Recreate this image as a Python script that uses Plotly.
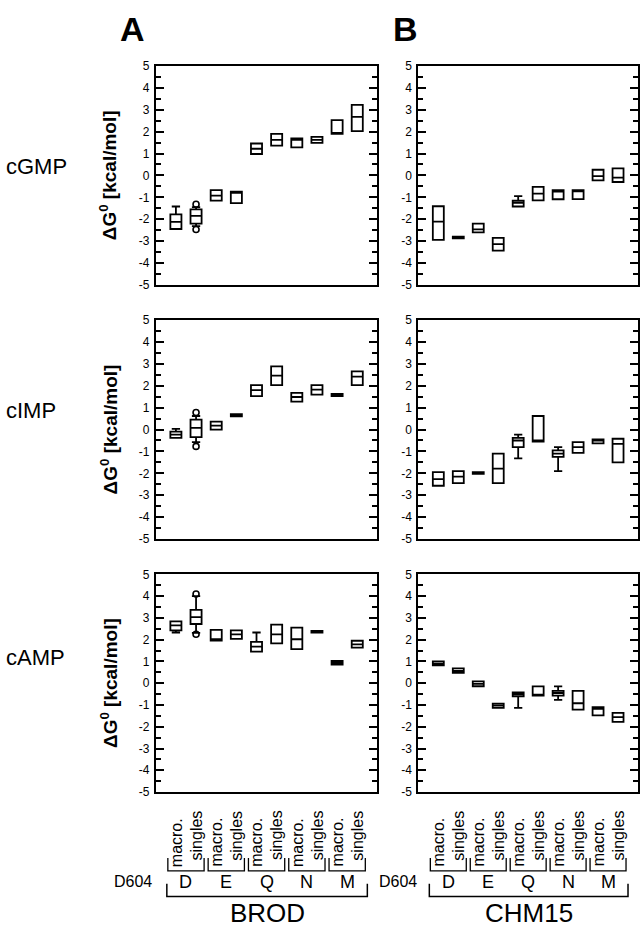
import plotly.graph_objects as go

# ---------------- data ----------------
pair_labels = ["macro.", "singles"]
residues = ["D", "E", "Q", "N", "M"]
groups = ["BROD", "CHM15"]
nucleotides = ["cGMP", "cIMP", "cAMP"]
panel_letters = ["A", "B"]
y_ticks = [5, 4, 3, 2, 1, 0, -1, -2, -3, -4, -5]
y_ticktext = [str(v) for v in y_ticks]

# each entry: (lower whisker, q1, median, q3, upper whisker); order D macro, D singles, E macro, ...
brod_cgmp = [(-2.45, -2.45, -2.12, -1.78, -1.42), (-2.32, -2.2, -1.85, -1.55, -1.45),
             (-1.15, -1.15, -0.92, -0.67, -0.67), (-1.27, -1.27, -0.8, -0.74, -0.74),
             (0.98, 0.98, 1.22, 1.46, 1.46), (1.36, 1.36, 1.63, 1.9, 1.9),
             (1.28, 1.28, 1.63, 1.69, 1.69), (1.49, 1.49, 1.63, 1.76, 1.76),
             (1.9, 1.9, 1.94, 2.53, 2.53), (2.03, 2.03, 2.68, 3.23, 3.23)]
chm_cgmp = [(-2.95, -2.95, -2.11, -1.41, -1.41), (-2.88, -2.88, -2.84, -2.8, -2.8),
            (-2.6, -2.6, -2.47, -2.2, -2.2), (-3.44, -3.44, -3.14, -2.86, -2.86),
            (-1.42, -1.42, -1.25, -1.15, -0.95), (-1.14, -1.14, -0.83, -0.52, -0.52),
            (-1.09, -1.09, -0.74, -0.67, -0.67), (-1.08, -1.08, -0.73, -0.67, -0.67),
            (-0.23, -0.23, -0.03, 0.26, 0.26), (-0.3, -0.3, -0.1, 0.32, 0.32)]
brod_cimp = [(-0.38, -0.38, -0.23, -0.09, 0.03), (-0.57, -0.35, 0.08, 0.45, 0.62),
             (0.0, 0.0, 0.18, 0.36, 0.36), (0.6, 0.6, 0.65, 0.7, 0.7),
             (1.53, 1.53, 1.8, 2.03, 2.03), (2.03, 2.03, 2.47, 2.89, 2.89),
             (1.28, 1.28, 1.49, 1.68, 1.68), (1.6, 1.6, 1.83, 2.03, 2.03),
             (1.53, 1.53, 1.58, 1.63, 1.63), (2.03, 2.03, 2.42, 2.66, 2.66)]
chm_cimp = [(-2.57, -2.57, -2.27, -1.95, -1.95), (-2.45, -2.45, -2.15, -1.9, -1.9),
            (-2.03, -2.03, -2.0, -1.95, -1.95), (-2.45, -2.45, -1.79, -1.1, -1.1),
            (-1.32, -0.8, -0.5, -0.38, -0.23), (-0.55, -0.55, -0.5, 0.62, 0.62),
            (-1.9, -1.25, -1.1, -0.95, -0.8), (-1.07, -1.07, -0.8, -0.57, -0.57),
            (-0.63, -0.63, -0.5, -0.45, -0.45), (-1.5, -1.5, -0.65, -0.42, -0.42)]
brod_camp = [(2.33, 2.43, 2.66, 2.84, 2.84), (2.31, 2.72, 3.04, 3.37, 4.0),
             (1.96, 1.96, 2.02, 2.45, 2.45), (2.04, 2.04, 2.24, 2.43, 2.43),
             (1.45, 1.45, 1.68, 1.9, 2.33), (1.83, 1.83, 2.24, 2.69, 2.69),
             (1.57, 1.57, 2.02, 2.55, 2.55), (2.33, 2.33, 2.36, 2.4, 2.4),
             (0.85, 0.85, 0.94, 1.03, 1.03), (1.63, 1.63, 1.78, 1.95, 1.95)]
chm_camp = [(0.82, 0.82, 0.9, 1.0, 1.0), (0.48, 0.48, 0.57, 0.68, 0.68),
            (-0.14, -0.14, -0.03, 0.08, 0.08), (-1.13, -1.13, -1.03, -0.94, -0.94),
            (-1.13, -0.6, -0.5, -0.42, -0.42), (-0.57, -0.57, -0.55, -0.15, -0.15),
            (-0.77, -0.57, -0.45, -0.35, -0.15), (-1.21, -1.21, -0.92, -0.35, -0.35),
            (-1.48, -1.48, -1.18, -1.1, -1.1), (-1.78, -1.78, -1.56, -1.36, -1.36)]

# outliers: (category index, value)
brod_cgmp_out = [(1, -1.32), (1, -2.47)]
brod_cimp_out = [(1, 0.78), (1, -0.77)]
brod_camp_out = [(1, 4.1), (1, 2.25)]

panels = [[brod_cgmp, chm_cgmp], [brod_cimp, chm_cimp], [brod_camp, chm_camp]]
outliers = [[brod_cgmp_out, []], [brod_cimp_out, []], [brod_camp_out, []]]

# ---------------- layout geometry (pixels) ----------------
W, H = 640, 933
col_px = [(156, 378), (419, 639)]
row_px = [(60, 282), (318, 540), (576, 797)]
FONT = "Liberation Sans, Arial, sans-serif"


def py(v):
    return 1 - v / H


fig = go.Figure()
layout = dict(width=W, height=H, margin=dict(l=0, r=0, t=0, b=0),
              paper_bgcolor="white", plot_bgcolor="white", showlegend=False,
              font=dict(family=FONT, color="black"))
annotations = []
shapes = []

for r in range(3):
    for c in range(2):
        n = r * 2 + c + 1
        xs = "" if n == 1 else str(n)
        data = panels[r][c]
        pos = list(range(len(data)))
        fig.add_trace(go.Box(
            x=pos,
            lowerfence=[d[0] for d in data], q1=[d[1] for d in data],
            median=[d[2] for d in data], q3=[d[3] for d in data],
            upperfence=[d[4] for d in data],
            xaxis="x" + xs, yaxis="y" + xs, boxpoints=False,
            fillcolor="white", line=dict(color="black", width=1.8),
            width=0.55, whiskerwidth=0.75, hoverinfo="skip"))
        if outliers[r][c]:
            fig.add_trace(go.Scatter(
                x=[o[0] for o in outliers[r][c]], y=[o[1] for o in outliers[r][c]],
                mode="markers", xaxis="x" + xs, yaxis="y" + xs,
                marker=dict(symbol="circle-open", size=6, color="black",
                            line=dict(width=1.6, color="black")), hoverinfo="skip"))
        x0, x1 = col_px[c]
        y0, y1 = row_px[r]
        layout["xaxis" + xs] = dict(domain=[x0 / W, x1 / W], range=[-1, 10], anchor="y" + xs,
                                    showline=True, mirror=True, linewidth=2, linecolor="black",
                                    showticklabels=False, ticks="", showgrid=False, zeroline=False,
                                    fixedrange=True)
        layout["yaxis" + xs] = dict(domain=[py(y1), py(y0)], range=[-5, 5], anchor="x" + xs,
                                    showline=True, mirror="ticks", linewidth=2, linecolor="black",
                                    tickvals=y_ticks, ticktext=y_ticktext, ticks="inside",
                                    ticklen=8, tickwidth=2, tickcolor="black",
                                    minor=dict(dtick=0.5, tick0=0, ticks="inside", ticklen=5,
                                               tickwidth=1.5, tickcolor="black"),
                                    tickfont=dict(size=12, family=FONT, color="black"),
                                    ticklabelstandoff=2,
                                    showgrid=False, zeroline=False, fixedrange=True)

# panel letters
for c, letter in enumerate(panel_letters):
    annotations.append(dict(text="<b>" + letter + "</b>", xref="paper", yref="paper",
                            x=(133 if c == 0 else 406) / W, y=py(22), showarrow=False,
                            xanchor="center", yanchor="middle", font=dict(size=34, family=FONT)))

# row labels and y titles
label_y = [162, 410, 660]
for r, nuc in enumerate(nucleotides):
    annotations.append(dict(text=nuc, xref="paper", yref="paper", x=4 / W, y=py(label_y[r]),
                            showarrow=False, xanchor="left", yanchor="middle",
                            font=dict(size=22, family=FONT)))
    yc = (row_px[r][0] + row_px[r][1]) / 2
    annotations.append(dict(text="<b>ΔG<sup>0</sup> [kcal/mol]</b>", xref="paper", yref="paper",
                            x=109 / W, y=py(yc), showarrow=False, textangle=-90,
                            xanchor="center", yanchor="middle", font=dict(size=19, family=FONT)))

# bottom category labels and brackets
for c in range(2):
    n = 4 + c + 1
    xr = "x" + str(n)
    for k, res in enumerate(residues):
        for j, lab in enumerate(pair_labels):
            annotations.append(dict(text=lab, xref=xr, yref="paper", x=2 * k + j,
                                    y=py(848 if j == 0 else 841), showarrow=False, textangle=-90,
                                    xanchor="center", yanchor="middle",
                                    font=dict(size=16, family=FONT)))
        annotations.append(dict(text=res, xref=xr, yref="paper", x=2 * k + 0.5, y=py(888),
                                showarrow=False, xanchor="center", yanchor="middle",
                                font=dict(size=18, family=FONT)))
        a, b = 2 * k - 0.4, 2 * k + 1.4
        shapes.append(dict(type="path", xref=xr, yref="paper",
                           path=f"M {a} {py(864)} L {a} {py(877)} L {b} {py(877)} L {b} {py(864)}",
                           line=dict(color="black", width=1.3)))
    a, b = -0.45, 9.5
    shapes.append(dict(type="path", xref=xr, yref="paper",
                       path=f"M {a} {py(890)} L {a} {py(903)} L {b} {py(903)} L {b} {py(890)}",
                       line=dict(color="black", width=1.5)))
    annotations.append(dict(text=groups[c], xref=xr, yref="paper", x=4.55, y=py(920),
                            showarrow=False, xanchor="center", yanchor="middle",
                            font=dict(size=26, family=FONT)))
    annotations.append(dict(text="D604", xref="paper", yref="paper",
                            x=(133 if c == 0 else 399) / W, y=py(888), showarrow=False,
                            xanchor="center", yanchor="middle", font=dict(size=16, family=FONT)))

layout["annotations"] = annotations
layout["shapes"] = shapes
fig.update_layout(**layout)
fig.write_html("out.html")
